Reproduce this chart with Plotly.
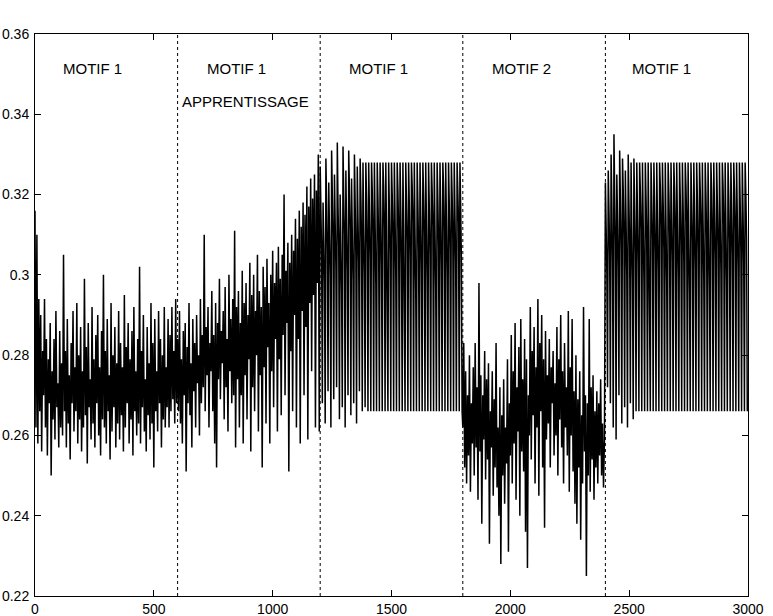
import plotly.graph_objects as go

# Sample steps between stored values (samples) for noisy / periodic segments
step_noisy = 4
step_periodic = 3
segment_starts = [0, 600, 1200, 1800, 2400]

# Segment 1: MOTIF 1 (samples 0-596)
seg1 = [0.316, 0.262, 0.310, 0.258, 0.294, 0.266, 0.290, 0.256, 0.281, 0.270,
        0.294, 0.262, 0.284, 0.255, 0.279, 0.268, 0.288, 0.250, 0.276, 0.264,
        0.284, 0.259, 0.291, 0.267, 0.273, 0.257, 0.286, 0.262, 0.278, 0.260,
        0.305, 0.266, 0.281, 0.257, 0.289, 0.263, 0.275, 0.254, 0.283, 0.268,
        0.291, 0.261, 0.277, 0.266, 0.293, 0.258, 0.280, 0.264, 0.287, 0.256,
        0.276, 0.262, 0.299, 0.265, 0.282, 0.253, 0.288, 0.267, 0.274, 0.259,
        0.292, 0.263, 0.279, 0.257, 0.285, 0.268, 0.290, 0.260, 0.277, 0.255,
        0.286, 0.264, 0.300, 0.262, 0.281, 0.258, 0.289, 0.266, 0.275, 0.254,
        0.293, 0.261, 0.280, 0.267, 0.287, 0.257, 0.278, 0.263, 0.291, 0.259,
        0.283, 0.265, 0.277, 0.256, 0.295, 0.262, 0.282, 0.268, 0.288, 0.258,
        0.279, 0.264, 0.286, 0.255, 0.292, 0.266, 0.276, 0.260, 0.284, 0.263,
        0.302, 0.258, 0.281, 0.267, 0.290, 0.261, 0.274, 0.256, 0.287, 0.265,
        0.278, 0.259, 0.293, 0.263, 0.283, 0.252, 0.289, 0.266, 0.276, 0.261,
        0.291, 0.268, 0.284, 0.257, 0.280, 0.264, 0.292, 0.262, 0.277, 0.267,
        0.289, 0.262, 0.285, 0.266, 0.292, 0.269, 0.281, 0.263, 0.294, 0.268]

# Segment 2: MOTIF 1 / APPRENTISSAGE (samples 600-1196)
seg2 = [0.284, 0.266, 0.291, 0.263, 0.279, 0.258, 0.286, 0.270, 0.288, 0.251,
        0.282, 0.268, 0.293, 0.265, 0.278, 0.257, 0.289, 0.271, 0.283, 0.262,
        0.290, 0.273, 0.280, 0.260, 0.294, 0.268, 0.285, 0.272, 0.310, 0.266,
        0.287, 0.275, 0.292, 0.262, 0.283, 0.276, 0.296, 0.266, 0.285, 0.258,
        0.293, 0.252, 0.288, 0.274, 0.299, 0.269, 0.286, 0.278, 0.291, 0.264,
        0.297, 0.272, 0.284, 0.261, 0.300, 0.276, 0.289, 0.268, 0.294, 0.270,
        0.311, 0.257, 0.292, 0.274, 0.296, 0.262, 0.288, 0.270, 0.301, 0.258,
        0.293, 0.275, 0.298, 0.264, 0.290, 0.279, 0.303, 0.256, 0.295, 0.272,
        0.300, 0.266, 0.291, 0.280, 0.305, 0.261, 0.296, 0.275, 0.292, 0.252,
        0.302, 0.277, 0.297, 0.263, 0.304, 0.282, 0.293, 0.258, 0.300, 0.276,
        0.306, 0.267, 0.298, 0.284, 0.303, 0.261, 0.307, 0.279, 0.299, 0.265,
        0.305, 0.285, 0.320, 0.270, 0.301, 0.288, 0.308, 0.251, 0.303, 0.281,
        0.310, 0.266, 0.306, 0.290, 0.314, 0.262, 0.309, 0.284, 0.316, 0.258,
        0.312, 0.291, 0.318, 0.270, 0.315, 0.287, 0.322, 0.259, 0.317, 0.293,
        0.324, 0.276, 0.319, 0.295, 0.325, 0.262, 0.321, 0.298, 0.330, 0.261]

# Segment 3: MOTIF 1 (samples 1200-1797), one row per presentation:
# peak, upper value, upper value, trough
seg3 = [0.327, 0.314, 0.305, 0.268,  0.318, 0.309, 0.298, 0.263,
        0.329, 0.318, 0.306, 0.271,  0.323, 0.311, 0.300, 0.262,
        0.331, 0.320, 0.309, 0.269,  0.325, 0.313, 0.302, 0.272,
        0.333, 0.317, 0.307, 0.264,  0.320, 0.308, 0.296, 0.267,
        0.332, 0.319, 0.310, 0.262,  0.326, 0.312, 0.301, 0.270,
        0.331, 0.321, 0.311, 0.265,  0.324, 0.310, 0.299, 0.268,
        0.330, 0.318, 0.305, 0.263,  0.327, 0.314, 0.303, 0.271,
        0.329, 0.320, 0.308, 0.266,  0.328, 0.312, 0.300, 0.267,
        0.328, 0.319, 0.306, 0.266,  0.328, 0.316, 0.304, 0.266,
        0.328, 0.321, 0.310, 0.266,  0.328, 0.313, 0.298, 0.266,
        0.328, 0.319, 0.307, 0.266,  0.328, 0.315, 0.302, 0.266,
        0.328, 0.322, 0.312, 0.266,  0.328, 0.311, 0.295, 0.266,
        0.328, 0.318, 0.305, 0.266,  0.328, 0.320, 0.309, 0.266,
        0.328, 0.314, 0.300, 0.266,  0.328, 0.321, 0.311, 0.266,
        0.328, 0.316, 0.303, 0.266,  0.328, 0.312, 0.297, 0.266,
        0.328, 0.319, 0.308, 0.266,  0.328, 0.317, 0.304, 0.266,
        0.328, 0.322, 0.313, 0.266,  0.328, 0.310, 0.296, 0.266,
        0.328, 0.318, 0.306, 0.266,  0.328, 0.315, 0.301, 0.266,
        0.328, 0.320, 0.310, 0.266,  0.328, 0.313, 0.299, 0.266,
        0.328, 0.317, 0.305, 0.266,  0.328, 0.321, 0.312, 0.266,
        0.328, 0.311, 0.297, 0.266,  0.328, 0.319, 0.307, 0.266,
        0.328, 0.316, 0.302, 0.266,  0.328, 0.322, 0.311, 0.266,
        0.328, 0.314, 0.300, 0.266,  0.328, 0.318, 0.306, 0.266,
        0.328, 0.320, 0.309, 0.266,  0.328, 0.315, 0.303, 0.266,
        0.328, 0.321, 0.313, 0.266,  0.328, 0.317, 0.304, 0.266]

# Segment 4: MOTIF 2 (samples 1800-2396)
seg4 = [0.262, 0.283, 0.252, 0.276, 0.248, 0.270, 0.255, 0.280, 0.246, 0.268,
        0.258, 0.277, 0.250, 0.283, 0.257, 0.272, 0.244, 0.298, 0.256, 0.275,
        0.238, 0.270, 0.259, 0.281, 0.249, 0.274, 0.254, 0.278, 0.233, 0.266,
        0.257, 0.276, 0.245, 0.269, 0.252, 0.283, 0.247, 0.262, 0.240, 0.272,
        0.228, 0.265, 0.250, 0.274, 0.243, 0.262, 0.253, 0.279, 0.231, 0.268,
        0.255, 0.285, 0.248, 0.276, 0.258, 0.288, 0.244, 0.272, 0.261, 0.282,
        0.240, 0.289, 0.256, 0.274, 0.251, 0.284, 0.236, 0.279, 0.227, 0.270,
        0.260, 0.292, 0.254, 0.281, 0.265, 0.287, 0.248, 0.277, 0.262, 0.294,
        0.245, 0.283, 0.266, 0.290, 0.252, 0.279, 0.237, 0.286, 0.259, 0.275,
        0.263, 0.284, 0.252, 0.277, 0.268, 0.281, 0.255, 0.273, 0.260, 0.287,
        0.250, 0.279, 0.264, 0.290, 0.257, 0.276, 0.248, 0.283, 0.262, 0.272,
        0.255, 0.291, 0.246, 0.277, 0.260, 0.289, 0.251, 0.271, 0.243, 0.280,
        0.238, 0.269, 0.252, 0.276, 0.234, 0.265, 0.248, 0.292, 0.256, 0.270,
        0.225, 0.268, 0.250, 0.289, 0.246, 0.272, 0.254, 0.275, 0.244, 0.266,
        0.252, 0.271, 0.248, 0.268, 0.255, 0.274, 0.250, 0.263, 0.247, 0.259]

# Segment 5: MOTIF 1 (samples 2400-2997), peak, upper, upper, trough per presentation
seg5 = [0.323, 0.312, 0.301, 0.272,  0.326, 0.316, 0.305, 0.268,
        0.330, 0.318, 0.303, 0.262,  0.335, 0.320, 0.308, 0.259,
        0.325, 0.314, 0.302, 0.270,  0.331, 0.319, 0.306, 0.263,
        0.329, 0.321, 0.309, 0.267,  0.326, 0.313, 0.300, 0.262,
        0.330, 0.318, 0.307, 0.268,  0.328, 0.312, 0.299, 0.264,
        0.329, 0.317, 0.305, 0.266,  0.328, 0.315, 0.303, 0.266,
        0.328, 0.321, 0.311, 0.266,  0.328, 0.313, 0.299, 0.266,
        0.328, 0.319, 0.308, 0.266,  0.328, 0.311, 0.296, 0.266,
        0.328, 0.320, 0.309, 0.266,  0.328, 0.317, 0.305, 0.266,
        0.328, 0.314, 0.301, 0.266,  0.328, 0.322, 0.312, 0.266,
        0.328, 0.318, 0.306, 0.266,  0.328, 0.312, 0.298, 0.266,
        0.328, 0.320, 0.310, 0.266,  0.328, 0.316, 0.304, 0.266,
        0.328, 0.321, 0.311, 0.266,  0.328, 0.313, 0.300, 0.266,
        0.328, 0.319, 0.307, 0.266,  0.328, 0.317, 0.303, 0.266,
        0.328, 0.322, 0.313, 0.266,  0.328, 0.310, 0.296, 0.266,
        0.328, 0.318, 0.308, 0.266,  0.328, 0.315, 0.302, 0.266,
        0.328, 0.319, 0.306, 0.266,  0.328, 0.321, 0.312, 0.266,
        0.328, 0.313, 0.299, 0.266,  0.328, 0.320, 0.309, 0.266,
        0.328, 0.312, 0.297, 0.266,  0.328, 0.321, 0.310, 0.266,
        0.328, 0.316, 0.304, 0.266,  0.328, 0.318, 0.307, 0.266,
        0.328, 0.314, 0.301, 0.266,  0.328, 0.322, 0.312, 0.266,
        0.328, 0.312, 0.298, 0.266,  0.328, 0.319, 0.308, 0.266,
        0.328, 0.317, 0.305, 0.266,  0.328, 0.321, 0.311, 0.266,
        0.328, 0.314, 0.302, 0.266,  0.328, 0.318, 0.306, 0.266,
        0.328, 0.316, 0.303, 0.266,  0.328, 0.320, 0.309, 0.266]

boundaries = [600, 1200, 1800, 2400]
labels = ["MOTIF 1", "MOTIF 1", "MOTIF 1", "MOTIF 2", "MOTIF 1"]
label_x = [240, 846, 1447, 2049, 2634]
label_y = 0.3515
sub_label = "APPRENTISSAGE"
sub_label_x = 884
sub_label_y = 0.3433

y_ticks = [0.22, 0.24, 0.26, 0.28, 0.30, 0.32, 0.34, 0.36]
y_tick_text = ["0.22", "0.24", "0.26", "0.28", "0.3", "0.32", "0.34", "0.36"]
x_ticks = [0, 500, 1000, 1500, 2000, 2500, 3000]

segments = [seg1, seg2, seg3, seg4, seg5]
steps = [step_noisy, step_noisy, step_periodic, step_noisy, step_periodic]
samples, values = [], []
for start, seg, st in zip(segment_starts, segments, steps):
    samples += list(range(start, start + len(seg) * st, st))
    values += seg

fig = go.Figure()
fig.add_trace(go.Scatter(x=samples, y=values, mode="lines",
                         line=dict(color="black", width=1.5), showlegend=False,
                         hoverinfo="skip"))

for b in boundaries:
    fig.add_shape(type="line", x0=b, x1=b, y0=0, y1=1, xref="x", yref="paper",
                  line=dict(color="black", width=1, dash="dot"))

font = dict(family="Liberation Sans, Arial, Helvetica, sans-serif", size=14, color="black")
ann_font = dict(family="Liberation Sans, Arial, Helvetica, sans-serif", size=15, color="black")
for t, xx in zip(labels, label_x):
    fig.add_annotation(x=xx, y=label_y, text=t, showarrow=False,
                       xanchor="center", yanchor="middle", font=ann_font)
fig.add_annotation(x=sub_label_x, y=sub_label_y, text=sub_label, showarrow=False,
                   xanchor="center", yanchor="middle", font=ann_font)

fig.update_layout(
    width=773, height=616,
    margin=dict(l=35, r=25, t=34, b=20, autoexpand=False),
    paper_bgcolor="white", plot_bgcolor="white",
    font=font,
)
fig.update_xaxes(range=[0, 3000], tickvals=x_ticks, ticks="inside", ticklen=6,
                 tickcolor="black", showline=True, linecolor="black", linewidth=1,
                 mirror="ticks", showgrid=False, zeroline=False, automargin=False,
                 tickfont=font, ticklabelstandoff=0)
fig.update_yaxes(range=[0.22, 0.36], tickvals=y_ticks, ticktext=y_tick_text,
                 ticks="inside", ticklen=6, tickcolor="black", showline=True,
                 linecolor="black", linewidth=1, mirror="ticks", showgrid=False,
                 zeroline=False, automargin=False, tickfont=font, ticklabelstandoff=2)

fig.write_html("out.html", config={"displayModeBar": False},
               post_script="document.body.style.margin='0px';document.body.style.overflow='hidden';")
